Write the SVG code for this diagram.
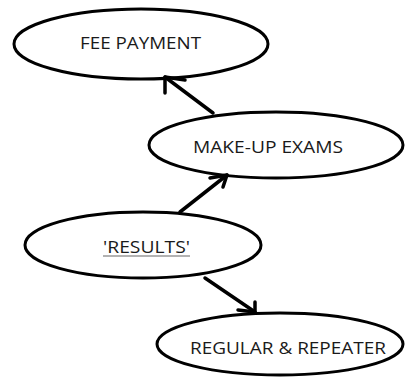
<svg xmlns="http://www.w3.org/2000/svg" width="406" height="378" viewBox="0 0 406 378">
<style>
.node ellipse{fill:#fff;stroke:#000;stroke-width:3}
.node text{font-family:"Open Sans","Noto Sans",sans-serif;font-size:17px;fill:#1a1a1a}
.conn line,.conn polyline{stroke:#000;stroke-width:3.5;fill:none;stroke-linecap:round;stroke-linejoin:round}
</style>
<rect width="406" height="378" fill="#fff"/>
<g id="fee-payment" class="node">
<ellipse cx="141" cy="44" rx="127" ry="35"/>
<text x="80" y="48.5" textLength="121" lengthAdjust="spacingAndGlyphs">FEE PAYMENT</text>
</g>
<g id="make-up-exams" class="node">
<ellipse cx="276" cy="145" rx="127" ry="33"/>
<text x="193" y="152.5" textLength="150" lengthAdjust="spacingAndGlyphs">MAKE-UP EXAMS</text>
</g>
<g id="results" class="node">
<ellipse cx="143" cy="245" rx="118" ry="33"/>
<text x="103" y="252.5" textLength="87" lengthAdjust="spacingAndGlyphs">'RESULTS'</text>
<line x1="103" y1="256" x2="190" y2="256" stroke="#999" stroke-width="1.5"/>
</g>
<g id="regular-repeater" class="node">
<ellipse cx="280" cy="344" rx="123" ry="31"/>
<text x="190" y="353.5" textLength="196" lengthAdjust="spacingAndGlyphs">REGULAR &amp; REPEATER</text>
</g>
<g id="connectors" class="conn">
<line x1="213" y1="113" x2="165" y2="77"/>
<polyline points="185,80 165,77 165,93"/>
<line x1="180" y1="212" x2="227" y2="175"/>
<polyline points="210,178 227,175 223,187"/>
<line x1="205" y1="278" x2="255" y2="312"/>
<polyline points="255,302 255,312 238,310"/>
</g>
</svg>
